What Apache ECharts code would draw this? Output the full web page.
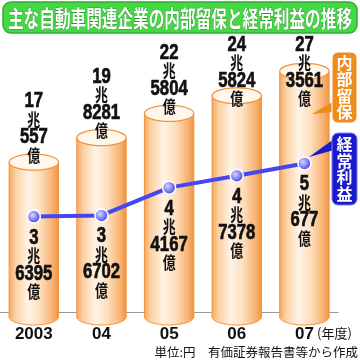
<!DOCTYPE html>
<html><head><meta charset="utf-8">
<script src="https://cdn.jsdelivr.net/npm/echarts@6/dist/echarts.min.js"></script>
<style>html,body{margin:0;padding:0;background:#fff}#c{width:360px;height:362px}</style>
</head><body><div id="c"></div>
<script>
const categories = ['2003', '04', '05', '06', '07'];
// 内部留保 (兆円)
const retained = [17.0557, 19.8281, 22.5804, 24.5824, 27.3561];
// 経常利益 (兆円)
const profit = [3.6395, 3.6702, 4.4167, 4.7378, 5.0677];
const titleText = '主な自動車関連企業の内部留保と経常利益の推移';
const unitText = '単位:円　有価証券報告書等から作成';

const NUM_FONT = "'Liberation Sans', Arial, sans-serif";
const JP_FONT = "'Noto Sans CJK JP', sans-serif";

function choOku(v) {
  const cho = Math.floor(v + 1e-9);
  const oku = Math.round((v - cho) * 10000);
  return '{a|' + cho + '}\n{b|兆}\n{a|' + oku + '}\n{b|億}';
}
const rich = {
  a: { fontSize: 22, fontWeight: 'bold', fontFamily: NUM_FONT, lineHeight: 18, fill: '#111', stroke: '#111', lineWidth: 0.7 },
  b: { fontSize: 17, fontWeight: 'bold', fontFamily: JP_FONT, lineHeight: 18, fill: '#111' }
};

const chart = echarts.init(document.getElementById('c'), null, { renderer: 'canvas' });

function renderCyl(params, api) {
  const i = api.value(0), v = api.value(1);
  const top = api.coord([i, v]);
  const cs = params.coordSys;
  const bottomY = cs.y + cs.height;
  const w = api.size([1, 0])[0] * 0.73;
  const rx = w / 2, ry = 8, cx = top[0];
  const grad = () => new echarts.graphic.LinearGradient(0, 0, 1, 0, [
    { offset: 0, color: '#f5a860' },
    { offset: 0.12, color: '#fbcf9f' },
    { offset: 0.38, color: '#fff3e6' },
    { offset: 0.62, color: '#fde0c0' },
    { offset: 0.88, color: '#f8b272' },
    { offset: 1, color: '#f09440' }
  ]);
  const labelBottom = Math.max(top[1] + 2, cs.y + 60);
  return {
    type: 'group',
    children: [
      { type: 'ellipse', shape: { cx: cx, cy: bottomY, rx: rx, ry: ry }, style: { fill: grad(), stroke: '#f0953f', lineWidth: 1 } },
      { type: 'rect', shape: { x: cx - rx, y: top[1], width: w, height: bottomY - top[1] }, style: { fill: grad() } },
      { type: 'line', shape: { x1: cx - rx, y1: top[1], x2: cx - rx, y2: bottomY }, style: { stroke: '#f0953f', lineWidth: 1 } },
      { type: 'line', shape: { x1: cx + rx, y1: top[1], x2: cx + rx, y2: bottomY }, style: { stroke: '#f0953f', lineWidth: 1 } },
      { type: 'ellipse', shape: { cx: cx, cy: top[1], rx: rx, ry: ry }, style: { fill: '#fff6ec', stroke: '#f0953f', lineWidth: 1.2 } },
      { type: 'text', x: cx, y: labelBottom, scaleX: 0.76,
        style: { text: choOku(v), rich: rich, align: 'center', verticalAlign: 'bottom' } }
    ]
  };
}

function renderLineLabel(params, api) {
  const i = api.value(0), v = api.value(1);
  const p = api.coord([i, v]);
  return { type: 'text', x: p[0], y: p[1] + 12, scaleX: 0.76,
    style: { text: choOku(v), rich: rich, align: 'center', verticalAlign: 'top' } };
}

chart.setOption({
  animation: false,
  backgroundColor: '#fff',
  grid: { left: -4, right: 21.75, top: 48, bottom: 45 },
  xAxis: {
    type: 'category', data: categories,
    axisLine: { show: true, lineStyle: { color: '#999', width: 1 } },
    axisTick: { show: false },
    axisLabel: { margin: 9, fontSize: 17, fontWeight: 'bold', fontFamily: NUM_FONT, color: '#111' }
  },
  yAxis: [
    { type: 'value', min: -0.5, max: 30, show: false, splitLine: { show: false } },
    { type: 'value', min: 0.94, max: 8.17, show: false, splitLine: { show: false } }
  ],
  series: [
    { type: 'custom', name: '内部留保', yAxisIndex: 0, z: 2,
      data: retained.map((v, i) => [i, v]), renderItem: renderCyl },
    { type: 'line', name: '経常利益', yAxisIndex: 1, z: 4, data: profit,
      lineStyle: { color: '#4646f0', width: 4 },
      symbol: 'circle', symbolSize: 13,
      itemStyle: {
        color: new echarts.graphic.RadialGradient(0.4, 0.4, 0.6, [
          { offset: 0, color: '#d6d6ff' }, { offset: 0.6, color: '#7a7af6' }, { offset: 1, color: '#3a3ae6' }
        ]),
        borderColor: '#ffffff', borderWidth: 1.5
      },
      label: { show: false } },
    { type: 'custom', name: '経常利益ラベル', yAxisIndex: 1, z: 3,
      data: profit.map((v, i) => [i, v]), renderItem: renderLineLabel }
  ],
  graphic: [
    { type: 'rect', shape: { x: 3, y: 2, width: 354, height: 31, r: 8 },
      style: { fill: '#45d845', stroke: '#2eae2e', lineWidth: 1.5 }, z: 10 },
    { type: 'text', x: 180, y: 18, scaleX: 0.68, z: 11,
      style: { text: titleText, fontSize: 23, fontWeight: 'bold', fontFamily: JP_FONT,
        fill: '#fff', align: 'center', verticalAlign: 'middle', stroke: '#2a9a2a', lineWidth: 1 } },
    // 内部留保 tag
    { type: 'polygon', shape: { points: [[334, 101], [334, 112], [312, 114]] }, style: { fill: '#f08c1c' }, z: 10 },
    { type: 'rect', shape: { x: 332, y: 52, width: 25, height: 71, r: 6 }, style: { fill: '#f08c1c', stroke: '#fff', lineWidth: 1 }, z: 10 },
    { type: 'text', x: 344.5, y: 87.5, z: 11,
      style: { text: '内\n部\n留\n保', fontSize: 16, lineHeight: 16.5, fontWeight: 'bold', fontFamily: JP_FONT,
        fill: '#fff', align: 'center', verticalAlign: 'middle' } },
    // 経常利益 tag
    { type: 'polygon', shape: { points: [[334, 139], [334, 150], [309, 157]] }, style: { fill: '#1a1ac8' }, z: 10 },
    { type: 'rect', shape: { x: 332, y: 133, width: 25, height: 72, r: 6 }, style: { fill: '#1a1ac8', stroke: '#7a7aff', lineWidth: 1 }, z: 10 },
    { type: 'text', x: 344.5, y: 169, z: 11,
      style: { text: '経\n常\n利\n益', fontSize: 16, lineHeight: 16.5, fontWeight: 'bold', fontFamily: JP_FONT,
        fill: '#fff', align: 'center', verticalAlign: 'middle' } },
    { type: 'text', x: 317, y: 333, z: 11,
      style: { text: '(年度)', fontSize: 13, fontFamily: JP_FONT, fill: '#111', align: 'left', verticalAlign: 'middle' } },
    { type: 'text', x: 358, y: 352, z: 11,
      style: { text: unitText, fontSize: 12.5, fontFamily: JP_FONT, fill: '#111', align: 'right', verticalAlign: 'middle' } }
  ]
});
</script>
</body></html>
